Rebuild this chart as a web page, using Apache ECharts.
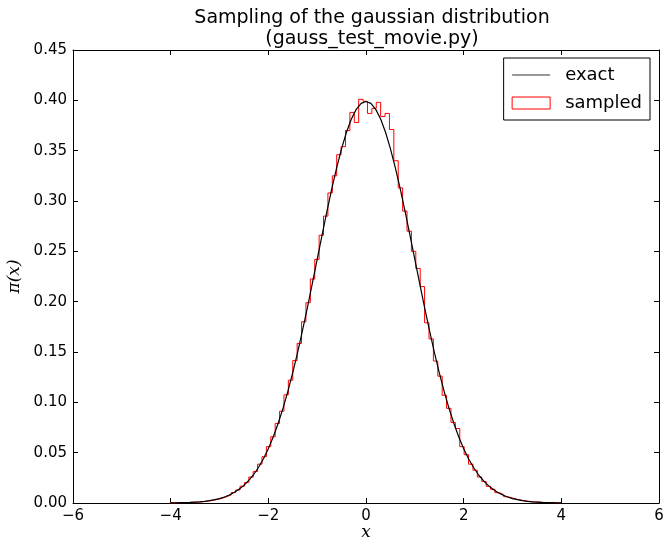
<!DOCTYPE html>
<html><head><meta charset="utf-8">
<script src="https://cdn.jsdelivr.net/npm/echarts@6/dist/echarts.min.js"></script>
<style>html,body{margin:0;padding:0;background:#fff}#c{width:665px;height:539px}</style>
</head><body><div id="c"></div>
<script>
// exact gaussian curve, read at 0.1 spacing
const exactX = [-4.0,-3.9,-3.8,-3.7,-3.6,-3.5,-3.4,-3.3,-3.2,-3.1,-3.0,-2.9,-2.8,-2.7,-2.6,-2.5,-2.4,-2.3,-2.2,-2.1,
  -2.0,-1.9,-1.8,-1.7,-1.6,-1.5,-1.4,-1.3,-1.2,-1.1,-1.0,-0.9,-0.8,-0.7,-0.6,-0.5,-0.4,-0.3,-0.2,-0.1,
  0.0,0.1,0.2,0.3,0.4,0.5,0.6,0.7,0.8,0.9,1.0,1.1,1.2,1.3,1.4,1.5,1.6,1.7,1.8,1.9,
  2.0,2.1,2.2,2.3,2.4,2.5,2.6,2.7,2.8,2.9,3.0,3.1,3.2,3.3,3.4,3.5,3.6,3.7,3.8,3.9,4.0];
const exactY = [0.0001,0.0002,0.0003,0.0004,0.0006,0.0009,0.0012,0.0017,0.0024,0.0033,0.0044,0.0060,0.0079,0.0104,0.0136,0.0175,0.0224,0.0283,0.0355,0.0440,
  0.0540,0.0656,0.0790,0.0940,0.1109,0.1295,0.1497,0.1714,0.1942,0.2179,0.2420,0.2661,0.2897,0.3123,0.3332,0.3521,0.3683,0.3814,0.3910,0.3970,
  0.3989,0.3970,0.3910,0.3814,0.3683,0.3521,0.3332,0.3123,0.2897,0.2661,0.2420,0.2179,0.1942,0.1714,0.1497,0.1295,0.1109,0.0940,0.0790,0.0656,
  0.0540,0.0440,0.0355,0.0283,0.0224,0.0175,0.0136,0.0104,0.0079,0.0060,0.0044,0.0033,0.0024,0.0017,0.0012,0.0009,0.0006,0.0004,0.0003,0.0002,0.0001];
// histogram bin edges and sampled densities
const binEdges = [-4.02,-3.93,-3.84,-3.75,-3.66,-3.57,-3.48,-3.39,-3.30,-3.21,
  -3.12,-3.03,-2.94,-2.85,-2.76,-2.67,-2.58,-2.49,-2.40,-2.31,
  -2.22,-2.13,-2.04,-1.95,-1.86,-1.77,-1.68,-1.59,-1.50,-1.41,
  -1.32,-1.23,-1.14,-1.05,-0.96,-0.87,-0.78,-0.69,-0.60,-0.51,
  -0.42,-0.33,-0.24,-0.15,-0.06,0.03,0.12,0.21,0.30,0.39,
  0.48,0.57,0.66,0.75,0.84,0.93,1.02,1.11,1.20,1.29,
  1.38,1.47,1.56,1.65,1.74,1.83,1.92,2.01,2.10,2.19,
  2.28,2.37,2.46,2.55,2.64,2.73,2.82,2.91,3.00,3.09,
  3.18,3.27,3.36,3.45,3.54,3.63,3.72,3.81,3.90,3.99];
const sampled = [0.0001,0.0002,0.0003,0.0004,0.0006,0.0008,0.0011,0.0016,0.0021,0.0027,
  0.0037,0.0047,0.0063,0.0080,0.0104,0.0129,0.0167,0.0204,0.0258,0.0312,
  0.0386,0.0460,0.0560,0.0658,0.0790,0.0912,0.1075,0.1220,0.1415,0.1585,
  0.1800,0.1990,0.2225,0.2420,0.2660,0.2850,0.3080,0.3250,0.3460,0.3540,
  0.3700,0.3880,0.3780,0.4010,0.3990,0.3870,0.3920,0.3980,0.3840,0.3870,
  0.3710,0.3400,0.3130,0.2900,0.2700,0.2500,0.2330,0.2150,0.1790,0.1630,
  0.1410,0.1260,0.1070,0.0940,0.0800,0.0740,0.0560,0.0480,0.0385,0.0325,
  0.0258,0.0214,0.0166,0.0137,0.0103,0.0084,0.0062,0.0050,0.0037,0.0029,
  0.0021,0.0016,0.0011,0.0009,0.0006,0.0004,0.0003,0.0002,0.0001];
const xTicks = [-6,-4,-2,0,2,4,6];
const yTicks = [0,0.05,0.10,0.15,0.20,0.25,0.30,0.35,0.40,0.45];

const exactData = exactX.map((x,i)=>[x, exactY[i]]);
const stepData = [[binEdges[0],0]];
sampled.forEach((v,i)=>{ stepData.push([binEdges[i],v]); stepData.push([binEdges[i+1],v]); });
stepData.push([binEdges[binEdges.length-1],0]);

const FONT = 'DejaVu Sans';
const axisCommon = {
  type:'value', axisLine:{show:true,onZero:false,lineStyle:{color:'#000',width:1}},
  axisTick:{show:true,inside:true,length:5,lineStyle:{color:'#000'}},
  splitLine:{show:false}
};
const chart = echarts.init(document.getElementById('c'), null, {renderer:'canvas'});
chart.setOption({
  animation:false,
  backgroundColor:'#fff',
  title:{text:'Sampling of the gaussian distribution\n(gauss_test_movie.py)', left:367, top:3, textAlign:'center',
    textStyle:{fontFamily:FONT,fontSize:19,fontWeight:'normal',color:'#000',lineHeight:21}},
  grid:{left:73,top:50,right:6,bottom:36,containLabel:false,outerBoundsMode:'none'},
  legend:{right:15,top:58,orient:'vertical',borderColor:'#000',borderWidth:1,padding:[8,8,8,8],itemGap:10,
    itemWidth:38,itemHeight:12,
    textStyle:{fontFamily:FONT,fontSize:18,color:'#000',padding:[0,0,0,10]},
    data:[{name:'exact',icon:'path://M0,5.5H38V6.5H0Z',itemStyle:{color:'#333',borderWidth:0}},
          {name:'sampled',icon:'rect',itemStyle:{color:'#fff',borderColor:'#ff0000',borderWidth:1}}]},
  xAxis:[Object.assign({},axisCommon,{min:xTicks[0],max:xTicks[xTicks.length-1],interval:2,position:'bottom',
      name:'x',nameLocation:'middle',nameGap:21,nameMoveOverlap:false,
      nameTextStyle:{fontFamily:'DejaVu Serif',fontStyle:'italic',fontSize:17,color:'#000'},
      axisLabel:{margin:6,fontFamily:FONT,fontSize:15,color:'#000',formatter:v=>String(v).replace('-','\u2212')}}),
    Object.assign({},axisCommon,{min:xTicks[0],max:xTicks[xTicks.length-1],interval:2,position:'top',axisLabel:{show:false}})],
  yAxis:[Object.assign({},axisCommon,{min:yTicks[0],max:yTicks[yTicks.length-1],interval:0.05,position:'left',
      name:'π(x)',nameLocation:'middle',nameGap:50,nameRotate:90,nameMoveOverlap:false,
      nameTextStyle:{fontFamily:'DejaVu Serif',fontStyle:'italic',fontSize:17,color:'#000'},
      axisLabel:{margin:6,fontFamily:FONT,fontSize:15,color:'#000',formatter:v=>v.toFixed(2)}}),
    Object.assign({},axisCommon,{min:yTicks[0],max:yTicks[yTicks.length-1],interval:0.05,position:'right',axisLabel:{show:false}})],
  series:[
    {name:'exact',type:'line',data:exactData,showSymbol:false,symbol:'none',xAxisIndex:0,yAxisIndex:0,
      lineStyle:{color:'#000',width:1.2},itemStyle:{color:'#000'},z:3},
    {name:'sampled',type:'line',data:stepData,showSymbol:false,symbol:'none',xAxisIndex:0,yAxisIndex:0,
      lineStyle:{color:'#ff0000',width:1},itemStyle:{color:'#ff0000'},z:2}
  ]
});
</script></body></html>
